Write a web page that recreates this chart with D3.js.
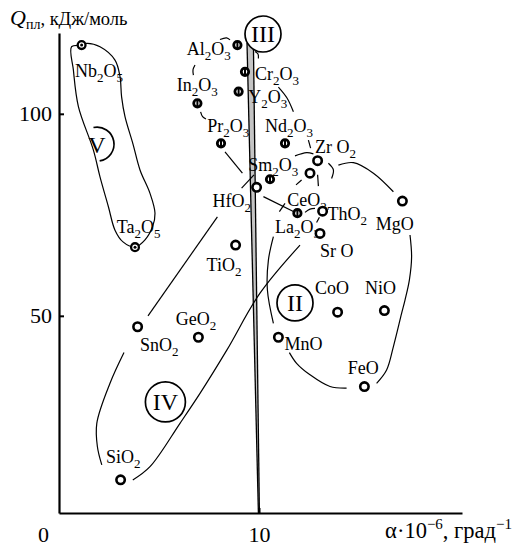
<!DOCTYPE html>
<html><head><meta charset="utf-8">
<script src="https://cdn.jsdelivr.net/npm/d3@7"></script>
<style>
body{margin:0;background:#fff}
svg{display:block}
text{font-family:"Liberation Serif","Times New Roman",serif;fill:#000}
</style>
</head><body>
<svg id="chart" width="512" height="546"></svg>
<script>
// Oxides: thermal expansion coefficient α·10^-6 (1/deg) vs heat of fusion Q (kJ/mol)
const compounds = ["Nb2O5","Ta2O5","Al2O3","Cr2O3","Y2O3","In2O3","Pr2O3","Nd2O3","Sm2O3","La2O3",
  "HfO2","ZrO2","CeO2","ThO2","SrO","TiO2","MgO","CoO","NiO","MnO","FeO","SnO2","GeO2","SiO2"];
const labelText = ["Nb2O5","Ta2O5","Al2O3","Cr2O3","Y2O3","In2O3","Pr2O3","Nd2O3","Sm2O3","La2O3",
  "HfO2","Zr O2","CeO2","ThO2","Sr O","TiO2","MgO","CoO","NiO","MnO","FeO","SnO2","GeO2","SiO2"];
const alpha = [1.13,3.8,8.92,9.3,8.98,6.92,8.1,11.3,10.55,11.92,
  9.88,12.93,12.55,13.18,13.05,8.83,17.17,13.93,16.27,10.97,15.27,3.93,6.97,3.08];
const heat = [117.0,67.0,117.0,110.4,105.5,102.6,92.7,92.7,83.8,75.4,
  81.8,88.4,85.3,75.9,70.4,67.5,78.4,50.9,51.3,44.7,32.5,47.3,44.7,9.4];
const markerKind = ["dot","dot","bar","bar","bar","bar","bar","bar","bar","bar",
  "open","open","open","open","open","open","open","open","open","open","open","open","open","open"];

const xTickValues = [0, 10];
const yTickValues = [50, 100];

// Group boundaries (α, Q)
const regionV = [[1.13,117],[1.38,117.45],[2.05,116.6],[2.8,113.3],[3.05,109.2],[3.13,104.2],[3.3,99.3],[3.7,92.5],
  [4.05,86.1],[4.55,80.3],[4.8,75.4],[4.68,72.1],[4.3,68.8],[3.8,67.0],[3.2,68.3],[2.8,71.2],[2.47,77.0],
  [2.05,84.4],[1.72,91.0],[0.97,101.8],[0.72,110.8],[0.63,116.6]];
const regionII = [
  [[13.97,87.3],[14.72,87.9],[15.72,85.3],[16.72,80.7]],
  [[17.55,70.0],[17.63,64.6],[17.52,58.9],[17.3,53.9],[17.13,50.6],[16.72,42.4],[16.38,36.6],[15.88,33.3]],
  [[14.38,32.1],[13.55,32.5],[12.55,35.4],[11.88,38.25],[11.52,40.9]],
  [[10.72,48.15],[10.42,56.4],[10.47,63.8],[10.72,69.6]]
];
const regionIV = [
  [[3.25,40.9],[2.55,33.3],[1.89,23.4],[1.92,17.6],[2.14,13.1]],
  [[12.05,67.5],[10.05,55.6],[8.39,41.5],[7.05,30.8],[6.05,23.4],[4.55,12.66],[3.69,9.37]],
  [[7.92,74.5],[4.45,50.0]]
];
const linkCurves = [
  [[8.05,118.4],[8.38,118.8],[8.55,118.3]],
  [[6.8,112.1],[6.7,110.9],[6.72,109.6]],
  [[7.08,100.5],[7.18,99.3],[7.35,98.7]],
  [[8.3,90.6],[9.17,85.3]],
  [[9.75,84.9],[9.13,81.6]],
  [[10.97,106.6],[11.4,103.9],[11.72,100.5]],
  [[9.8,115.4],[9.95,114.8],[9.97,113.7]],
  [[12.47,93.5],[12.58,91.5]],
  [[11.8,89.6],[12.38,90.4],[12.72,90.1]],
  [[13.47,87.75],[13.72,86.1],[13.63,84.0]],
  [[12.93,84.9],[12.97,82.1]],
  [[11.85,82.4],[12.13,83.6]],
  [[10.22,79.5],[11.72,75.8]],
  [[11.02,75.8],[11.3,77.85]],
  [[12.3,75.6],[12.55,76.4],[12.8,76.6]],
  [[13.02,74.4],[12.88,73.1]]
];
const bandIII = [[9.4,117.5],[9.72,117.5],[10.02,1.2],[9.97,1.2]];

const groupNames = ["III","II","IV","V"];
const groupCenters = [[10.2,119.75],[11.8,53.2],[5.32,28.7],[1.9,92.5]];

// Label placement (px offset of text start / baseline from the marker)
const labelOffset = [[-6.7,32],[-18.3,-14],[-50.6,10],[10,8],[9.6,11],[-20.6,-12.8],[-13.7,-11.6],[-20,-11.6],
  [-21.7,-8.6],[-22.3,20],[-44,20],[-2.7,-7.4],[-22.7,32.4],[5,9],[0,24],[-29,25.7],[-26.6,29],[-22.7,-18.3],
  [-19.3,-16.7],[6,12.7],[-16.6,-12.7],[2.3,24],[-22.6,-12.3],[-14.7,-17.3]];

const svg = d3.select("#chart");
const x = d3.scaleLinear().domain([0, 20.15]).range([59, 462]);
const y = d3.scaleLinear().domain([1.2, 120]).range([513, 33]);

const line = d3.line().x(d => x(d[0])).y(d => y(d[1])).curve(d3.curveCatmullRom.alpha(0.5));
const closedLine = d3.line().x(d => x(d[0])).y(d => y(d[1])).curve(d3.curveCatmullRomClosed.alpha(0.5));

// band III
svg.append("path")
  .attr("d", d3.line().x(d => x(d[0])).y(d => y(d[1])).curve(d3.curveLinearClosed)(bandIII))
  .attr("fill", "#c4c4c4").attr("stroke", "none");
svg.append("path").attr("d", d3.line().x(d => x(d[0])).y(d => y(d[1]))([bandIII[0], bandIII[3]]))
  .attr("stroke", "#000").attr("stroke-width", 1.3).attr("fill", "none");
svg.append("path").attr("d", d3.line().x(d => x(d[0])).y(d => y(d[1]))([bandIII[1], bandIII[2]]))
  .attr("stroke", "#000").attr("stroke-width", 1.3).attr("fill", "none");

const curves = svg.append("g").attr("fill", "none").attr("stroke", "#000").attr("stroke-width", 1.2);
curves.append("path").attr("d", closedLine(regionV));
regionII.concat(regionIV, linkCurves).forEach(seg => curves.append("path").attr("d", line(seg)));

// group markers
const groupG = svg.append("g");
groupNames.forEach((name, i) => {
  const cx = x(groupCenters[i][0]), cy = y(groupCenters[i][1]);
  const r = name === "IV" ? 20 : (name === "V" ? 17 : 18);
  if (name === "V") {
    const p = d3.path();
    const a0 = -102 * Math.PI / 180, a1 = 81 * Math.PI / 180;
    p.moveTo(cx + r * Math.cos(a0), cy + r * Math.sin(a0));
    p.arc(cx, cy, r, a0, a1);
    groupG.append("path").attr("d", p.toString()).attr("fill", "none").attr("stroke", "#000").attr("stroke-width", 1.7);
  } else {
    groupG.append("circle").attr("cx", cx).attr("cy", cy).attr("r", r)
      .attr("fill", "#fff").attr("stroke", "#000").attr("stroke-width", 1.7);
  }
  groupG.append("text").attr("x", cx).attr("y", cy).attr("dy", "0.35em")
    .attr("text-anchor", "middle").attr("font-size", 24).text(name);
});

// axes
const yAxis = d3.axisLeft(y).tickValues(yTickValues).tickSizeInner(-5).tickSizeOuter(0).tickPadding(7);
const gy = svg.append("g").attr("transform", `translate(${x(0)},0)`).call(yAxis);
const xAxis = d3.axisBottom(x).tickValues(xTickValues).tickSizeInner(-5).tickSizeOuter(0).tickPadding(13);
const gx = svg.append("g").attr("transform", `translate(0,${y(1.2)})`).call(xAxis);
[gx, gy].forEach(g => {
  g.select(".domain").attr("stroke-width", 2.2);
  g.selectAll(".tick line").attr("stroke-width", 2);
  g.selectAll("text").attr("font-size", 22).attr("font-family", "Liberation Serif, serif");
});
gx.selectAll(".tick").filter(d => d === 0).select("line").remove();
gx.selectAll(".tick").filter(d => d === 0).select("text").attr("x", -16);

// axis titles
const yt = svg.append("text").attr("x", 10).attr("y", 25).attr("font-size", 18.5);
yt.append("tspan").attr("font-style", "italic").attr("font-size", 22).text("Q");
yt.append("tspan").attr("font-size", 14).attr("dy", 4).text("пл");
yt.append("tspan").attr("dy", -4).text(", кДж/моль");

const xt = svg.append("text").attr("x", 512).attr("y", 538).attr("font-size", 22.5).attr("text-anchor", "end");
xt.append("tspan").text("α·10");
xt.append("tspan").attr("font-size", 15).attr("dy", -9).text("−6");
xt.append("tspan").attr("dy", 9).text(", град");
xt.append("tspan").attr("font-size", 15).attr("dy", -9).text("−1");

// formula labels with subscripts
function formula(sel, str) {
  let shifted = false;
  str.match(/\d+|[^\d]+/g).forEach(run => {
    const t = sel.append("tspan").text(run);
    if (/^\d+$/.test(run)) { t.attr("font-size", 13).attr("dy", shifted ? 0 : 5); shifted = true; }
    else { if (shifted) t.attr("dy", -5); shifted = false; }
  });
}
const labels = svg.append("g").attr("font-size", 18);
compounds.forEach((c, i) => {
  const t = labels.append("text")
    .attr("x", x(alpha[i]) + labelOffset[i][0])
    .attr("y", y(heat[i]) + labelOffset[i][1]);
  formula(t, labelText[i]);
});

// data points
const pts = svg.append("g");
compounds.forEach((c, i) => {
  const cx = x(alpha[i]), cy = y(heat[i]);
  const k = markerKind[i];
  if (k === "open") {
    pts.append("circle").attr("cx", cx).attr("cy", cy).attr("r", 4.2)
      .attr("fill", "#fff").attr("stroke", "#000").attr("stroke-width", 2.6);
  } else if (k === "bar") {
    pts.append("circle").attr("cx", cx).attr("cy", cy).attr("r", 3.7)
      .attr("fill", "#fff").attr("stroke", "#000").attr("stroke-width", 2.8);
    pts.append("line").attr("x1", cx).attr("x2", cx).attr("y1", cy - 4).attr("y2", cy + 4)
      .attr("stroke", "#000").attr("stroke-width", 2);
  } else {
    pts.append("circle").attr("cx", cx).attr("cy", cy).attr("r", 3.9)
      .attr("fill", "#fff").attr("stroke", "#000").attr("stroke-width", 2.3);
    pts.append("circle").attr("cx", cx).attr("cy", cy).attr("r", 1.5).attr("fill", "#000");
  }
});
</script>
</body></html>
